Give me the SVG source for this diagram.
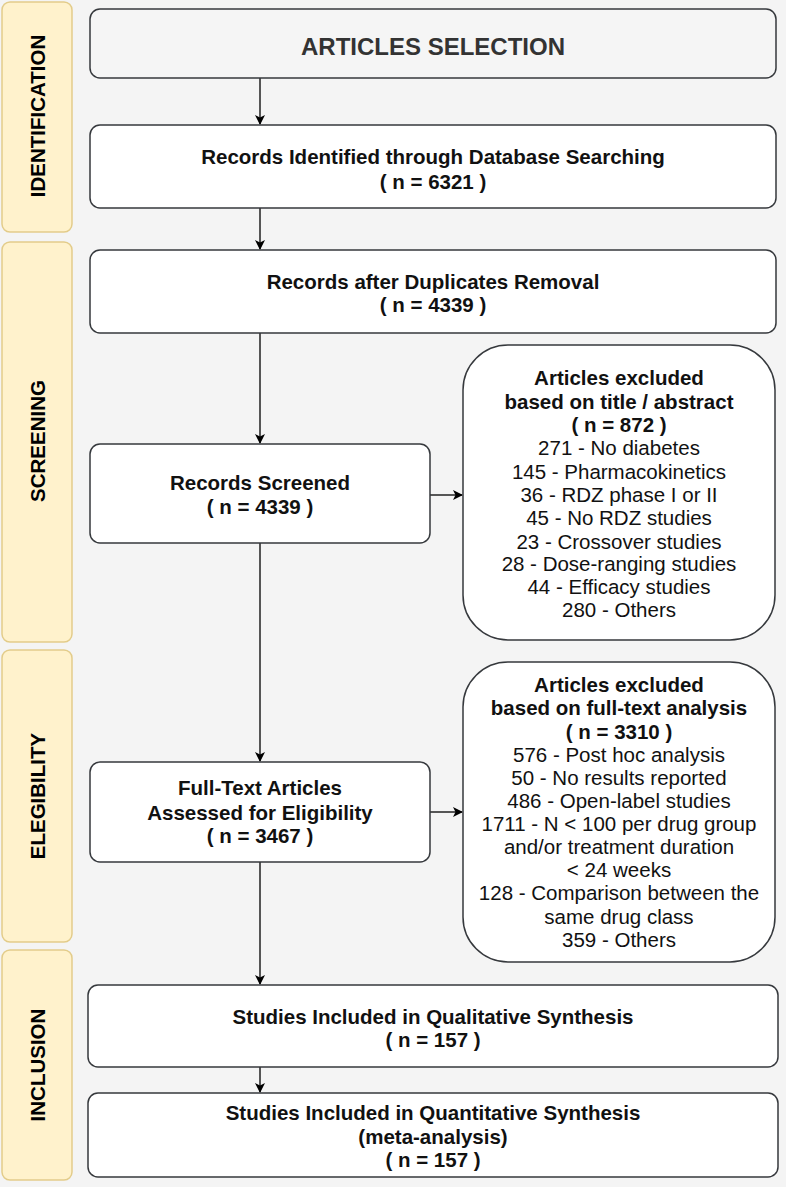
<svg xmlns="http://www.w3.org/2000/svg" width="786" height="1187" viewBox="0 0 786 1187">
<defs>
<marker id="ah" viewBox="0 0 10 10" refX="9" refY="5" markerWidth="10" markerHeight="10" markerUnits="userSpaceOnUse" orient="auto">
<path d="M0,0 L10,5 L0,10 L2.5,5 Z" fill="#000"/>
</marker>
<style>
.lane{fill:#fff2cc;stroke:#e3cc8a;stroke-width:1.5}
.lt{font-family:"Liberation Sans",Arial,sans-serif;font-weight:bold;font-size:20.5px;fill:#000;text-anchor:middle}
.box{fill:#fff;stroke:#36393d;stroke-width:1.5}
.bt{font-family:"Liberation Sans",Arial,sans-serif;font-weight:bold;font-size:20.5px;fill:#111;text-anchor:middle}
.et{font-family:"Liberation Sans",Arial,sans-serif;font-size:20.5px;fill:#111;text-anchor:middle}
.c{fill:none;stroke:#000;stroke-width:1.3;marker-end:url(#ah)}
</style>
</defs>
<rect width="786" height="1187" fill="#f4f4f4"/>
<g id="lanes">
<g id="lane-identification"><rect class="lane" x="2" y="2" width="70" height="230" rx="8"/><text class="lt" transform="translate(44.5,116) rotate(-90)">IDENTIFICATION</text></g>
<g id="lane-screening"><rect class="lane" x="2" y="242" width="70" height="400" rx="8"/><text class="lt" transform="translate(44.5,441) rotate(-90)">SCREENING</text></g>
<g id="lane-elegibility"><rect class="lane" x="2" y="650" width="70" height="292" rx="8"/><text class="lt" transform="translate(44.5,796) rotate(-90)">ELEGIBILITY</text></g>
<g id="lane-inclusion"><rect class="lane" x="2" y="950" width="70" height="230" rx="8"/><text class="lt" transform="translate(44.5,1065) rotate(-90)">INCLUSION</text></g>
</g>
<g id="connectors">
<line class="c" x1="260" y1="78" x2="260" y2="124"/>
<line class="c" x1="260" y1="208" x2="260" y2="249"/>
<line class="c" x1="260" y1="333" x2="260" y2="443"/>
<line class="c" x1="430" y1="495" x2="462" y2="495"/>
<line class="c" x1="260" y1="543" x2="260" y2="761"/>
<line class="c" x1="430" y1="812" x2="462" y2="812"/>
<line class="c" x1="260" y1="862" x2="260" y2="984"/>
<line class="c" x1="260" y1="1067" x2="260" y2="1092"/>
</g>
<g id="articles-selection"><rect x="90" y="9" width="686" height="69" rx="10" fill="#f5f5f5" stroke="#36393d" stroke-width="1.5"/><text x="433" y="55" font-family="Liberation Sans, Arial, sans-serif" font-weight="bold" font-size="24" fill="#333" text-anchor="middle">ARTICLES SELECTION</text></g>
<g id="records-identified"><rect class="box" x="90" y="125" width="686" height="83" rx="10"/><text class="bt" x="433" y="164">Records Identified through Database Searching</text><text class="bt" x="433" y="189">( n = 6321 )</text></g>
<g id="records-dedup"><rect class="box" x="90" y="250" width="686" height="83" rx="10"/><text class="bt" x="433" y="289">Records after Duplicates Removal</text><text class="bt" x="433" y="312">( n = 4339 )</text></g>
<g id="records-screened"><rect class="box" x="90" y="444" width="340" height="99" rx="10"/><text class="bt" x="260" y="490">Records Screened</text><text class="bt" x="260" y="514">( n = 4339 )</text></g>
<g id="excluded-abstract"><rect class="box" x="463" y="345" width="312" height="295" rx="45"/>
<text class="bt" x="619" y="385">Articles excluded</text>
<text class="bt" x="619" y="409">based on title / abstract</text>
<text class="bt" x="619" y="432">( n = 872 )</text>
<text class="et" x="619" y="455">271 - No diabetes</text>
<text class="et" x="619" y="479">145 - Pharmacokinetics</text>
<text class="et" x="619" y="502">36 - RDZ phase I or II</text>
<text class="et" x="619" y="525">45 - No RDZ studies</text>
<text class="et" x="619" y="549">23 - Crossover studies</text>
<text class="et" x="619" y="571">28 - Dose-ranging studies</text>
<text class="et" x="619" y="594">44 - Efficacy studies</text>
<text class="et" x="619" y="617">280 - Others</text>
</g>
<g id="fulltext"><rect class="box" x="90" y="762" width="340" height="100" rx="10"/><text class="bt" x="260" y="795">Full-Text Articles</text><text class="bt" x="260" y="820">Assessed for Eligibility</text><text class="bt" x="260" y="843">( n = 3467 )</text></g>
<g id="excluded-fulltext"><rect class="box" x="463" y="662" width="312" height="300" rx="45"/>
<text class="bt" x="619" y="692">Articles excluded</text>
<text class="bt" x="619" y="715">based on full-text analysis</text>
<text class="bt" x="619" y="739">( n = 3310 )</text>
<text class="et" x="619" y="762">576 - Post hoc analysis</text>
<text class="et" x="619" y="785">50 - No results reported</text>
<text class="et" x="619" y="808">486 - Open-label studies</text>
<text class="et" x="619" y="831">1711 - N &lt; 100 per drug group</text>
<text class="et" x="619" y="854">and/or treatment duration</text>
<text class="et" x="619" y="877">&lt; 24 weeks</text>
<text class="et" x="619" y="900">128 - Comparison between the</text>
<text class="et" x="619" y="924">same drug class</text>
<text class="et" x="619" y="947">359 - Others</text>
</g>
<g id="qualitative"><rect class="box" x="88" y="985" width="690" height="82" rx="10"/><text class="bt" x="433" y="1024">Studies Included in Qualitative Synthesis</text><text class="bt" x="433" y="1047">( n = 157 )</text></g>
<g id="quantitative"><rect class="box" x="88" y="1093" width="690" height="84" rx="10"/><text class="bt" x="433" y="1120">Studies Included in Quantitative Synthesis</text><text class="bt" x="433" y="1144">(meta-analysis)</text><text class="bt" x="433" y="1167">( n = 157 )</text></g>
</svg>
